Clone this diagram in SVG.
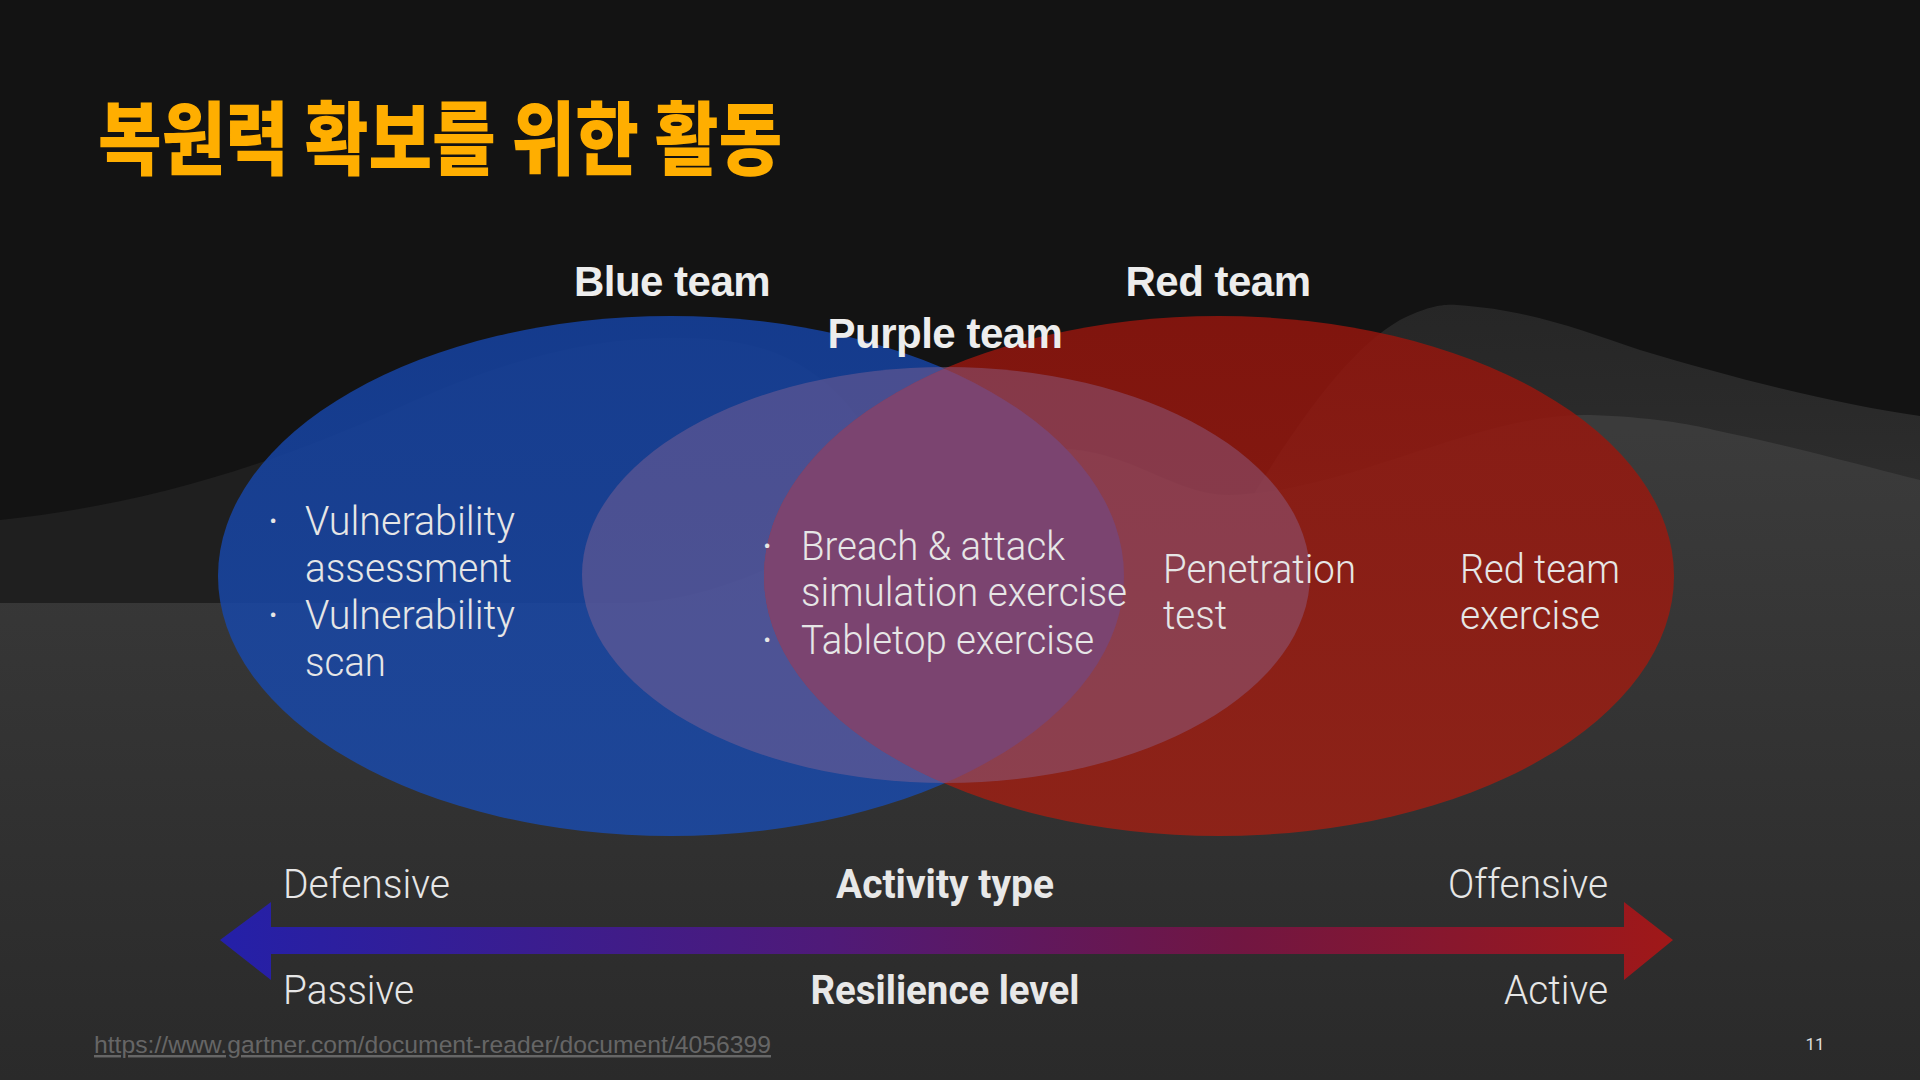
<svg xmlns="http://www.w3.org/2000/svg" width="1920" height="1080" viewBox="0 0 1920 1080">
<defs>
<style>
.head{font-family:"Liberation Sans",Arial,sans-serif;font-weight:700;font-size:42px;fill:#EDEDED;letter-spacing:-0.5px}
.body{font-family:Roboto,"Liberation Sans",sans-serif;font-weight:300;font-size:40px;fill:#E6E6E6}
.bold{font-family:Roboto,"Liberation Sans",sans-serif;font-weight:700;font-size:40px;fill:#E8E8E8}
.bul{font-family:Roboto,"Liberation Sans",sans-serif;font-size:40px;fill:#E6E6E6}
</style>
<linearGradient id="grey" x1="0" y1="430" x2="0" y2="1080" gradientUnits="userSpaceOnUse">
<stop offset="0" stop-color="#3b3b3b"/><stop offset="1" stop-color="#2a2a2a"/>
</linearGradient>
<linearGradient id="hill" x1="0" y1="300" x2="0" y2="520" gradientUnits="userSpaceOnUse">
<stop offset="0" stop-color="#262626"/><stop offset="1" stop-color="#2e2e2e"/>
</linearGradient>
<linearGradient id="arrow" x1="220" y1="0" x2="1673" y2="0" gradientUnits="userSpaceOnUse">
<stop offset="0" stop-color="#2420A8"/>
<stop offset="0.42" stop-color="#4F1A78"/>
<stop offset="0.7" stop-color="#711642"/>
<stop offset="1" stop-color="#A01818"/>
</linearGradient>
<linearGradient id="blueG" x1="0" y1="316" x2="0" y2="836" gradientUnits="userSpaceOnUse">
<stop offset="0" stop-color="#1542A2"/><stop offset="1" stop-color="#1A4AAA"/>
</linearGradient>
<linearGradient id="redG" x1="0" y1="316" x2="0" y2="836" gradientUnits="userSpaceOnUse">
<stop offset="0" stop-color="#93150D"/><stop offset="1" stop-color="#9D2014"/>
</linearGradient>
<clipPath id="clipBlue"><ellipse cx="671" cy="576" rx="453" ry="260"/></clipPath>
<clipPath id="clipRed"><ellipse cx="1219" cy="576" rx="455" ry="260"/></clipPath>
</defs>

<g id="background">
<rect x="0" y="0" width="1920" height="1080" fill="#131313"/>
<path d="M0,520 C140,505 260,470 400,407 C520,352 620,330 720,340 C820,350 880,420 900,520 L900,1080 L0,1080 Z" fill="#1f1f1f"/>
<path d="M1180,620 C1260,480 1330,360 1400,320 C1430,305 1445,304 1457,305 C1530,310 1580,330 1640,350 C1740,380 1840,405 1920,416 L1920,1080 L1180,1080 Z" fill="url(#hill)"/>
<path d="M0,603 L620,603 C780,603 900,470 1040,450 C1120,440 1170,496 1230,495 C1350,492 1480,412 1590,415 C1650,417 1690,424 1714,430 C1800,448 1870,468 1920,480 L1920,1080 L0,1080 Z" fill="url(#grey)"/>
</g>

<g id="title">
<text transform="translate(98,168) scale(0.865,1)" x="0" y="0" font-family="'Noto Sans CJK KR','Noto Sans CJK SC',sans-serif" font-weight="900" font-size="80" fill="#FFAE00">복원력 확보를 위한 활동</text>
</g>

<g id="blue-team">
<ellipse cx="671" cy="576" rx="453" ry="260" fill="url(#blueG)" fill-opacity="0.85"/>
</g>
<g id="red-team">
<ellipse cx="1219" cy="576" rx="455" ry="260" fill="url(#redG)" fill-opacity="0.85"/>
</g>
<g id="purple-team">
<ellipse cx="946" cy="575" rx="364" ry="208" fill="#8E6793" fill-opacity="0.44"/>
<g clip-path="url(#clipRed)">
<ellipse cx="946" cy="575" rx="364" ry="208" fill="#7B4470" clip-path="url(#clipBlue)"/>
</g>
</g>

<g id="labels">
<text class="head" x="672" y="296" text-anchor="middle">Blue team</text>
<text class="head" x="1218" y="296" text-anchor="middle">Red team</text>
<text class="head" x="945" y="348" text-anchor="middle">Purple team</text>

<text class="bul" x="268" y="535">·</text>
<text class="body" x="305" y="535" textLength="210" lengthAdjust="spacingAndGlyphs">Vulnerability</text>
<text class="body" x="305" y="582" textLength="207" lengthAdjust="spacingAndGlyphs">assessment</text>
<text class="bul" x="268" y="629">·</text>
<text class="body" x="305" y="629" textLength="210" lengthAdjust="spacingAndGlyphs">Vulnerability</text>
<text class="body" x="305" y="676" textLength="81" lengthAdjust="spacingAndGlyphs">scan</text>

<text class="bul" x="762" y="560">·</text>
<text class="body" x="801" y="560" textLength="264" lengthAdjust="spacingAndGlyphs">Breach &amp; attack</text>
<text class="body" x="801" y="606" textLength="326" lengthAdjust="spacingAndGlyphs">simulation exercise</text>
<text class="bul" x="762" y="654">·</text>
<text class="body" x="801" y="654" textLength="293" lengthAdjust="spacingAndGlyphs">Tabletop exercise</text>

<text class="body" x="1163" y="583" textLength="193" lengthAdjust="spacingAndGlyphs">Penetration</text>
<text class="body" x="1163" y="629" textLength="64" lengthAdjust="spacingAndGlyphs">test</text>

<text class="body" x="1460" y="583" textLength="160" lengthAdjust="spacingAndGlyphs">Red team</text>
<text class="body" x="1460" y="629" textLength="140" lengthAdjust="spacingAndGlyphs">exercise</text>
</g>

<g id="connectors">
<path d="M220,940 L271,902 L271,927 L1624,927 L1624,902 L1673,940 L1624,980 L1624,954 L271,954 L271,980 Z" fill="url(#arrow)"/>
</g>

<g id="axis-labels">
<text class="body" x="283" y="898" textLength="167" lengthAdjust="spacingAndGlyphs">Defensive</text>
<text class="body" x="283" y="1004" textLength="131" lengthAdjust="spacingAndGlyphs">Passive</text>
<text class="body" x="1608" y="898" text-anchor="end" textLength="160" lengthAdjust="spacingAndGlyphs">Offensive</text>
<text class="body" x="1608" y="1004" text-anchor="end" textLength="104" lengthAdjust="spacingAndGlyphs">Active</text>
<text class="bold" x="945" y="898" text-anchor="middle" textLength="218" lengthAdjust="spacingAndGlyphs">Activity type</text>
<text class="bold" x="945" y="1004" text-anchor="middle" textLength="269" lengthAdjust="spacingAndGlyphs">Resilience level</text>
</g>

<g id="footer">
<text x="94" y="1053" font-family="'Liberation Sans',Arial,sans-serif" font-size="24.5" fill="#666666" text-decoration="underline" textLength="677" lengthAdjust="spacingAndGlyphs">https://www.gartner.com/document-reader/document/4056399</text>
<text x="1815" y="1050" font-family="Roboto,'Liberation Sans',sans-serif" font-size="17" fill="#DDDDDD" text-anchor="middle">11</text>
</g>
</svg>
